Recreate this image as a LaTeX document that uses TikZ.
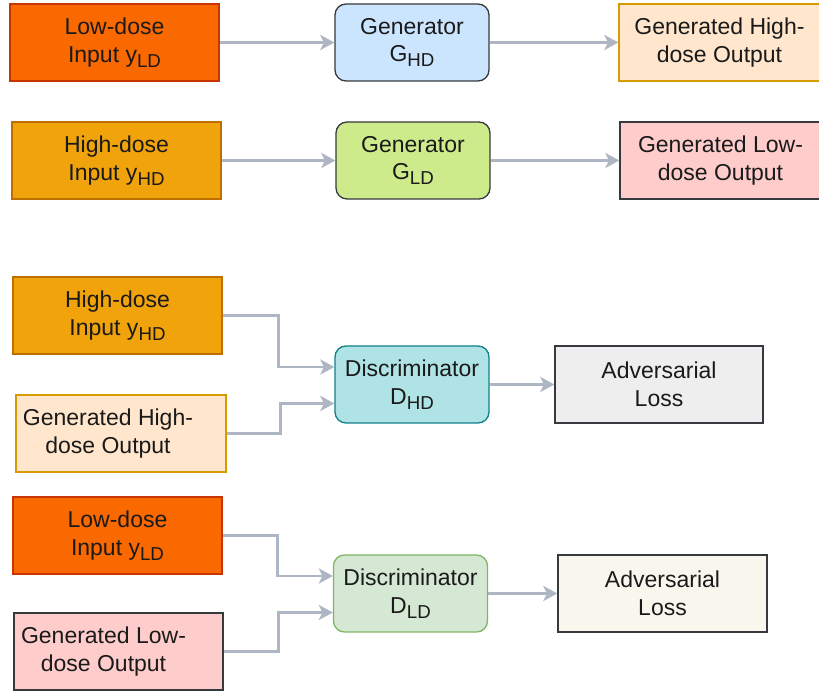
\documentclass[tikz,border=0pt]{standalone}
\usepackage{fontspec}
\setmainfont{Liberation Sans}
\usepackage{xcolor}
\usetikzlibrary{arrows.meta,calc}
\definecolor{lowfill}{HTML}{FA6800}
\definecolor{lowedge}{HTML}{C73500}
\definecolor{highfill}{HTML}{F0A30A}
\definecolor{highedge}{HTML}{BD7000}
\definecolor{genhdfill}{HTML}{FFE6CC}
\definecolor{genhdedge}{HTML}{D79B00}
\definecolor{genldfill}{HTML}{FFCCCC}
\definecolor{ghdfill}{HTML}{CCE5FF}
\definecolor{gldfill}{HTML}{CDEB8B}
\definecolor{dhdfill}{HTML}{B0E3E6}
\definecolor{dhdedge}{HTML}{0E8088}
\definecolor{dldfill}{HTML}{D5E8D4}
\definecolor{dldedge}{HTML}{82B366}
\definecolor{losshdfill}{HTML}{EEEEEE}
\definecolor{lossldfill}{HTML}{F9F7ED}
\definecolor{edgegray}{HTML}{36393D}
\definecolor{linkgray}{HTML}{AEB6C3}
\definecolor{txt}{HTML}{1A1A1A}
\newcommand{\dsub}[1]{\raisebox{-5pt}{\fontsize{18.7}{18.7}\selectfont #1}}

\begin{document}
\begin{tikzpicture}[x=1pt, y=1pt,
    font=\fontsize{23}{27.5}\selectfont,
    block/.style={draw=edgegray, line width=1.3pt, minimum height=77pt, align=center, inner sep=2pt, text=txt},
    lowin/.style={block, fill=lowfill, draw=lowedge, minimum width=209pt},
    highin/.style={block, fill=highfill, draw=highedge, minimum width=209pt},
    genhd/.style={block, fill=genhdfill, draw=genhdedge, minimum width=201pt},
    genld/.style={block, fill=genldfill, minimum width=201pt},
    net/.style={block, rounded corners=11pt, minimum width=154pt},
    loss/.style={block, minimum width=208pt},
    offtext/.style 2 args={label={[xshift=#1, align=center, text=txt]center:#2}},
    link/.style={draw=linkgray, line width=2.6pt, -{Stealth[length=14pt, width=15pt, inset=3.5pt]}}]
    \useasboundingbox (0,0) rectangle (819,693);

    % Generators
    \node[lowin] (ld1) at (114.5,650.5) {Low-dose\\Input y\dsub{LD}};
    \node[net, fill=ghdfill] (gHD) at (412,650.5) {Generator\\G\dsub{HD}};
    \node[genhd] (genHD1) at (719.5,650.5) {Generated High-\\dose Output};

    \node[highin] (hd1) at (116.5,532.5) {High-dose\\Input y\dsub{HD}};
    \node[net, fill=gldfill] (gLD) at (413,532.5) {Generator\\G\dsub{LD}};
    \node[genld] (genLD1) at (720.5,532.5) {Generated Low-\\dose Output};

    \draw[link] (ld1.east) -- (gHD.west);
    \draw[link] (gHD.east) -- (genHD1.west);
    \draw[link] (hd1.east) -- (gLD.west);
    \draw[link] (gLD.east) -- (genLD1.west);

    % Discriminator D_HD
    \node[highin] (hd2) at (117.5,377.5) {High-dose\\Input y\dsub{HD}};
    \node[genhd, minimum width=210pt, offtext={-13pt}{Generated High-\\dose Output}] (genHD2) at (121,259.5) {};
    \node[net, fill=dhdfill, draw=dhdedge] (dHD) at (412,308.5) {Discriminator\\D\dsub{HD}};
    \node[loss, fill=losshdfill] (lossHD) at (659,308.5) {Adversarial\\Loss};

    \coordinate (dHDa) at ($(dHD.west)+(0,17.5)$);
    \coordinate (dHDb) at ($(dHD.west)+(0,-19)$);
    \draw[link] (hd2.east) -| ($(hd2.east)!.5!(dHDa)$) |- (dHDa);
    \draw[link] (genHD2.east) -| ($(genHD2.east)!.5!(dHDb)$) |- (dHDb);
    \draw[link] (dHD.east) -- (lossHD.west);

    % Discriminator D_LD
    \node[lowin] (ld2) at (117.5,157.5) {Low-dose\\Input y\dsub{LD}};
    \node[genld, minimum width=209pt, offtext={-15pt}{Generated Low-\\dose Output}] (genLD2) at (118.5,41.5) {};
    \node[net, fill=dldfill, draw=dldedge] (dLD) at (410.5,99.5) {Discriminator\\D\dsub{LD}};
    \node[loss, minimum width=209pt, fill=lossldfill] (lossLD) at (662.5,99.5) {Adversarial\\Loss};

    \coordinate (dLDa) at ($(dLD.west)+(0,17.5)$);
    \coordinate (dLDb) at ($(dLD.west)+(0,-19)$);
    \draw[link] (ld2.east) -| ($(ld2.east)!.5!(dLDa)$) |- (dLDa);
    \draw[link] (genLD2.east) -| ($(genLD2.east)!.5!(dLDb)$) |- (dLDb);
    \draw[link] (dLD.east) -- (lossLD.west);
\end{tikzpicture}
\end{document}
